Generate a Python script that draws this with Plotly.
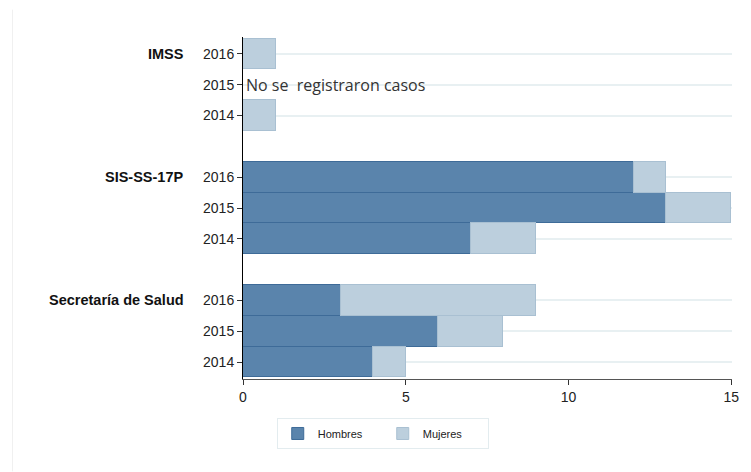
import plotly.graph_objects as go

# positions on the y axis (group blocks with a gap between them)
y_pos = [0, 1, 2, 4, 5, 6, 8, 9, 10]
years = ['2014', '2015', '2016'] * 3
groups = ['Secretaría de Salud', 'SIS-SS-17P', 'IMSS']
group_pos = [2, 6, 10]

hombres = [4, 6, 3, 7, 13, 12, 0, None, 0]
mujeres = [1, 2, 6, 2, 2, 1, 1, None, 1]

note_text = 'No se  registraron casos'
note_pos = 9

fig = go.Figure()
fig.add_trace(go.Bar(y=y_pos, x=hombres, orientation='h', name='Hombres', width=1,
                     marker_color='#5a84ac', marker_line_color='#3e6b98', marker_line_width=1))
fig.add_trace(go.Bar(y=y_pos, x=mujeres, orientation='h', name='Mujeres', width=1,
                     marker_color='#bccfdd', marker_line_color='#a9c0d2', marker_line_width=1))

for g, p in zip(groups, group_pos):
    fig.add_annotation(x=0, xref='paper', y=p, yref='y', text='<b>' + g + '</b>',
                       showarrow=False, xanchor='right', xshift=-57,
                       font=dict(family='Liberation Sans, Arial', size=14.5, color='#111111'))

fig.add_annotation(x=0, xref='x', y=note_pos, yref='y', text=note_text, showarrow=False,
                   xanchor='left', xshift=1,
                   font=dict(family='Open Sans', size=16, color='#333333'))

# faint outer frame line on the left
fig.add_shape(type='line', xref='paper', yref='paper', x0=-0.4714, x1=-0.4714, y0=-0.27, y1=1.08,
              line=dict(color='#f0f0f0', width=1))

fig.update_layout(
    barmode='stack',
    width=743, height=464,
    margin=dict(l=235, r=15, t=29, b=93),
    plot_bgcolor='white', paper_bgcolor='white',
    font=dict(family='Liberation Sans, Arial', size=14, color='#222222'),
    legend=dict(orientation='h', x=0.069, xanchor='left', y=-0.114, yanchor='top',
                bordercolor='#e3ecef', borderwidth=1, font=dict(size=11),
                entrywidth=60, traceorder='normal'),
    bargap=0,
)
fig.update_yaxes(range=[-0.55, 10.55], tickvals=y_pos, ticktext=years,
                 showgrid=True, gridcolor='#e8f0f2', gridwidth=1.5,
                 showline=True, linecolor='black', linewidth=1,
                 ticks='outside', ticklen=5, tickcolor='#333333', zeroline=False)
fig.update_xaxes(range=[0, 15.02], tickvals=[0, 5, 10, 15], showgrid=False, zeroline=False,
                 showline=True, linecolor='#555555', linewidth=1,
                 ticks='outside', ticklen=5, tickcolor='#333333', tickfont=dict(size=14))

fig.write_html('out.html')
